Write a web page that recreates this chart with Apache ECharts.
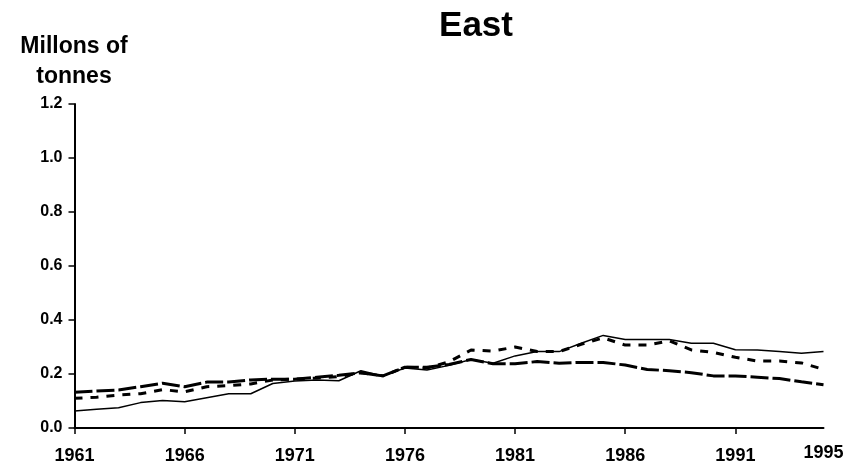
<!DOCTYPE html>
<html><head><meta charset="utf-8">
<script src="https://cdn.jsdelivr.net/npm/echarts@6/dist/echarts.min.js"></script>
<style>html,body{margin:0;padding:0;background:#fff}#c{width:855px;height:469px}</style>
</head><body><div id="c"></div>
<script>
const years = [];
for (let y = 1961; y <= 1995; y++) years.push(String(y));
const shownYears = ['1961','1966','1971','1976','1981','1986','1991','1995'];
const seriesSolid = [0.063,0.069,0.075,0.094,0.102,0.097,0.112,0.127,0.127,0.165,0.174,0.178,0.175,0.212,0.193,0.222,0.215,0.232,0.254,0.240,0.267,0.283,0.283,0.314,0.343,0.328,0.328,0.328,0.314,0.314,0.290,0.289,0.283,0.277,0.283];
const seriesShortDash = [0.110,0.114,0.122,0.127,0.142,0.134,0.153,0.157,0.163,0.178,0.181,0.185,0.190,0.205,0.193,0.225,0.222,0.245,0.289,0.285,0.300,0.283,0.283,0.310,0.334,0.307,0.307,0.323,0.289,0.280,0.262,0.248,0.248,0.241,0.217];
const seriesLongDash = [0.132,0.137,0.141,0.153,0.166,0.153,0.170,0.170,0.178,0.181,0.181,0.188,0.195,0.205,0.193,0.225,0.225,0.235,0.254,0.238,0.238,0.246,0.240,0.243,0.243,0.233,0.217,0.212,0.205,0.193,0.193,0.188,0.183,0.171,0.160];
const yTicks = {min: 0, max: 1.2, interval: 0.2};

const F = '"Liberation Sans", Arial, sans-serif';
const chart = echarts.init(document.getElementById('c'));
const showIdx = (i) => shownYears.indexOf(years[i]) >= 0;
chart.setOption({
  animation: false,
  title: [
    {text: 'East', left: 471, top: 4, textAlign: 'center',
     textStyle: {fontFamily: F, fontWeight: 'bold', fontSize: 35, color: '#000'}},
    {text: 'Millons of\ntonnes', left: 69, top: 27, textAlign: 'center',
     textStyle: {fontFamily: F, fontWeight: 'bold', fontSize: 23, color: '#000', lineHeight: 30}}
  ],
  grid: {left: 74.5, right: 31.5, top: 104, bottom: 41},
  xAxis: {
    type: 'category', data: years, boundaryGap: false,
    axisLine: {lineStyle: {color: '#000', width: 2}},
    axisTick: {interval: (i) => showIdx(i) && years[i] !== '1995', length: 6, lineStyle: {color: '#000', width: 1.5}},
    axisLabel: {interval: (i) => showIdx(i), fontFamily: F, fontWeight: 'bold', fontSize: 18, color: '#000', margin: 16,
      formatter: (v) => v === '1995' ? '{r|' + v + '}' : '{n|' + v + '}',
      rich: {
        n: {fontFamily: F, fontWeight: 'bold', fontSize: 18, color: '#000', padding: [3, 0, 0, 0]},
        r: {fontFamily: F, fontWeight: 'bold', fontSize: 18, color: '#000', padding: [0, 0, 3, 0]}
      }},
    splitLine: {show: false}
  },
  yAxis: {
    type: 'value', min: yTicks.min, max: yTicks.max, interval: yTicks.interval,
    axisLine: {show: true, lineStyle: {color: '#000', width: 2}},
    axisTick: {show: true, length: 6, lineStyle: {color: '#000', width: 1.5}},
    axisLabel: {fontFamily: F, fontWeight: 'bold', fontSize: 16, color: '#000', margin: 12,
      formatter: (v) => v.toFixed(1)},
    splitLine: {show: false}
  },
  series: [
    {type: 'line', data: seriesLongDash, symbol: 'none',
     lineStyle: {color: '#000', width: 3, type: [18, 4]}},
    {type: 'line', data: seriesShortDash, symbol: 'none',
     lineStyle: {color: '#000', width: 3, type: [8, 8]}},
    {type: 'line', data: seriesSolid, symbol: 'none',
     lineStyle: {color: '#000', width: 1.5, type: 'solid'}}
  ]
});
</script></body></html>
